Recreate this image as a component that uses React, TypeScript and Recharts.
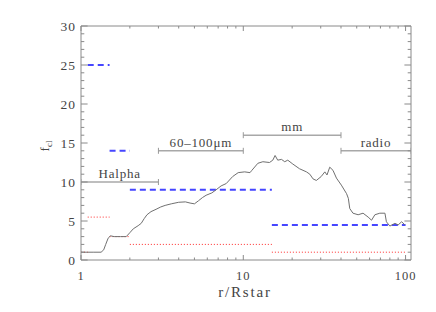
import React from 'react';
import { ComposedChart, Line, XAxis, YAxis } from 'recharts';

const xTicks = [1, 2, 3, 4, 5, 6, 7, 8, 9, 10, 20, 30, 40, 50, 60, 70, 80, 90, 100];
const xMajor = [1, 10, 100];
const yTicks = Array.from({ length: 31 }, (_, i) => i);

const curveR = [1.0, 1.2, 1.33, 1.38, 1.42, 1.47, 1.52, 1.6, 1.75, 1.9, 2.0, 2.1, 2.25, 2.35, 2.45, 2.55, 2.7, 2.9, 3.1, 3.3, 3.6, 4.0, 4.4, 4.7, 5.0, 5.3, 5.6, 5.9, 6.4, 6.8, 7.3, 7.85, 8.6, 9.3, 10.2, 11.0, 11.3, 12.3, 13.2, 14.5, 15.2, 15.7, 16.3, 17.2, 18.0, 18.8, 20.2, 22.2, 24.5, 25.7, 26.9, 28.2, 30.2, 31.8, 32.8, 34.1, 35.7, 37.5, 40.2, 43.3, 44.4, 45.3, 47.4, 51, 54.7, 58.8, 61.7, 64.7, 69.4, 74.6, 76.2, 80, 86, 90, 94.6, 99];
const curveF = [1.0, 1.0, 1.0, 1.3, 2.0, 2.8, 3.1, 3.0, 3.0, 3.0, 3.5, 4.0, 4.4, 4.7, 5.3, 5.8, 6.2, 6.5, 6.8, 7.0, 7.2, 7.4, 7.45, 7.3, 7.2, 7.6, 8.0, 8.3, 8.6, 9.0, 9.5, 9.8, 10.7, 11.2, 11.3, 11.2, 11.5, 12.4, 12.6, 12.5, 12.8, 13.4, 12.8, 12.9, 12.6, 12.8, 12.3, 11.7, 11.3, 11.0, 10.4, 10.2, 10.7, 11.3, 10.9, 11.9, 11.5, 10.5, 9.6, 8.5, 7.9, 6.6, 6.0, 5.8, 6.0, 5.5, 5.1, 5.8, 6.0, 6.0, 4.9, 4.35, 4.7, 4.5, 4.9, 4.5];

// blue dashed segments: [from, to, value]
const blueFrom = [1.1, 1.5, 2, 15];
const blueTo = [1.5, 2, 15, 100];
const blueVal = [25, 14, 9, 4.5];

// red dotted segments
const redFrom = [1, 1.1, 1.5, 2, 15];
const redTo = [1.1, 1.5, 2, 15, 100];
const redVal = [1, 5.5, 3, 2, 1];

// wavelength ranges
const rangeNames = ['Halpha', '60\u2013100\u03bcm', 'mm', 'radio'];
const rangeFrom = [1, 3, 10, 40];
const rangeTo = [3, 10, 40, 108];
const rangeVal = [10, 14, 16, 14];

const X_MAX = 108;
const AXIS = '#8a8a8a';
const TXT = '#444';
const FONT = '"Liberation Serif", "DejaVu Serif", serif';

const curveData = curveR.map((r, i) => ({ x: r, y: curveF[i] }));

const BottomTick = (props: any) => {
  const { x, y, payload } = props;
  const major = xMajor.includes(payload.value);
  const len = major ? 5 : 2.5;
  return (
    <g>
      <line x1={x} x2={x} y1={y} y2={y - len} stroke={AXIS} strokeWidth={1} />
      {major && (
        <text x={x} y={y + 20} textAnchor="middle" fontFamily={FONT} fontSize={12.5} fill={TXT} letterSpacing={1}>
          {payload.value}
        </text>
      )}
    </g>
  );
};

const TopTick = (props: any) => {
  const { x, y, payload } = props;
  const major = xMajor.includes(payload.value);
  const len = major ? 5 : 2.5;
  return <line x1={x} x2={x} y1={y} y2={y + len} stroke={AXIS} strokeWidth={1} />;
};

const LeftTick = (props: any) => {
  const { x, y, payload } = props;
  const major = payload.value % 5 === 0;
  const len = major ? 6.6 : 3.3;
  return (
    <g>
      <line x1={x} x2={x + len} y1={y} y2={y} stroke={AXIS} strokeWidth={1} />
      {major && (
        <text x={x - 5} y={y} dy="0.36em" textAnchor="end" fontFamily={FONT} fontSize={13.5} fill={TXT} letterSpacing={1}>
          {payload.value}
        </text>
      )}
    </g>
  );
};

const RightTick = (props: any) => {
  const { x, y, payload } = props;
  const major = payload.value % 5 === 0;
  const len = major ? 6.6 : 3.3;
  return <line x1={x} x2={x - len} y1={y} y2={y} stroke={AXIS} strokeWidth={1} />;
};

const makeRangeDot = (name: string) => (p: any) => {
  const { cx, cy, index } = p;
  if (index === 1) {
    return (
      <text key={`t${index}`} x={cx} y={cy - 4} textAnchor="middle" fontFamily={FONT} fontSize={13} fill={TXT} letterSpacing={0.8}>
        {name}
      </text>
    );
  }
  return <line key={`l${index}`} x1={cx} x2={cx} y1={cy - 3} y2={cy + 3} stroke="#999" strokeWidth={1} />;
};

export default function App() {
  return (
    <div style={{ position: 'absolute', left: 0, top: 0, width: 436, height: 312, background: '#fff' }}>
      <ComposedChart width={436} height={312} margin={{ top: 25, right: 24, left: 1, bottom: 22 }}>
        <XAxis
          xAxisId={0}
          type="number"
          dataKey="x"
          scale="log"
          domain={[1, X_MAX]}
          allowDataOverflow
          ticks={xTicks}
          interval={0}
          tickSize={0}
          tickMargin={0}
          tickLine={false}
          height={30}
          axisLine={{ stroke: AXIS }}
          tick={<BottomTick />}
        />
        <XAxis
          xAxisId="top"
          orientation="top"
          type="number"
          dataKey="x"
          scale="log"
          domain={[1, X_MAX]}
          allowDataOverflow
          ticks={xTicks}
          interval={0}
          tickSize={0}
          tickMargin={0}
          tickLine={false}
          height={1}
          axisLine={{ stroke: AXIS }}
          tick={<TopTick />}
        />
        <YAxis
          yAxisId={0}
          type="number"
          domain={[0, 30]}
          allowDataOverflow
          ticks={yTicks}
          interval={0}
          tickSize={0}
          tickMargin={0}
          tickLine={false}
          width={80}
          axisLine={{ stroke: AXIS }}
          tick={<LeftTick />}
        />
        <YAxis
          yAxisId="right"
          orientation="right"
          type="number"
          domain={[0, 30]}
          allowDataOverflow
          ticks={yTicks}
          interval={0}
          tickSize={0}
          tickMargin={0}
          tickLine={false}
          width={1}
          axisLine={{ stroke: AXIS }}
          tick={<RightTick />}
        />
        <Line data={[{ x: 1, y: 0 }, { x: X_MAX, y: 0 }]} xAxisId="top" yAxisId="right" dataKey="y" stroke="none" dot={false} isAnimationActive={false} />

        {rangeNames.map((n, i) => (
          <Line
            key={`r${i}`}
            data={[
              { x: rangeFrom[i], y: rangeVal[i] },
              { x: Math.sqrt(rangeFrom[i] * rangeTo[i]), y: rangeVal[i] },
              { x: rangeTo[i], y: rangeVal[i] },
            ]}
            dataKey="y"
            stroke="#a8a8a8"
            strokeWidth={1.6}
            dot={makeRangeDot(n)}
            isAnimationActive={false}
          />
        ))}

        {blueVal.map((v, i) => (
          <Line
            key={`b${i}`}
            data={[{ x: blueFrom[i], y: v }, { x: blueTo[i], y: v }]}
            dataKey="y"
            stroke="#4646ff"
            strokeWidth={2}
            strokeDasharray="6 4"
            dot={false}
            isAnimationActive={false}
          />
        ))}

        {redVal.map((v, i) => (
          <Line
            key={`d${i}`}
            data={[{ x: redFrom[i], y: v }, { x: redTo[i], y: v }]}
            dataKey="y"
            stroke="#ff2a2a"
            strokeWidth={1}
            strokeDasharray="1 2"
            dot={false}
            isAnimationActive={false}
          />
        ))}

        <Line data={curveData} dataKey="y" stroke="#707070" strokeWidth={1} dot={false} isAnimationActive={false} />
      </ComposedChart>
      <svg width={436} height={312} style={{ position: 'absolute', left: 0, top: 0, pointerEvents: 'none' }}>
        <text x={245} y={296.5} textAnchor="middle" fontFamily={FONT} fontSize={15} fill={TXT} letterSpacing={1.8}>
          r/Rstar
        </text>
        <text transform="translate(49,146) rotate(-90)" textAnchor="middle" fontFamily={FONT} fontSize={13} fill={TXT}>
          f<tspan fontSize={9} dy={3}>cl</tspan>
        </text>
      </svg>
    </div>
  );
}
